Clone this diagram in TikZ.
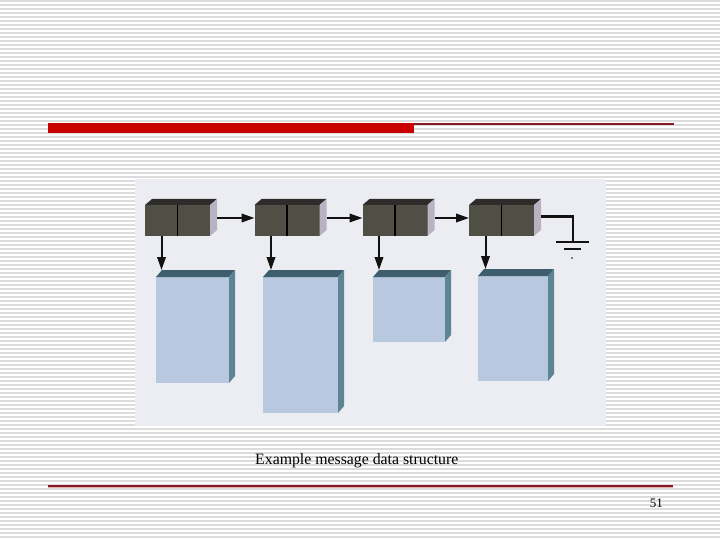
\documentclass[tikz,border=0pt]{standalone}
\usepackage{fontspec}
\setmainfont{Liberation Serif}
\usetikzlibrary{arrows.meta}
\definecolor{stripe}{RGB}{220,220,220}
\definecolor{photobg}{RGB}{236,237,243}
\definecolor{boxfront}{RGB}{80,79,70}
\definecolor{boxtop}{RGB}{46,44,42}
\definecolor{boxside}{RGB}{184,178,194}
\definecolor{blkfront}{RGB}{184,200,222}
\definecolor{blktop}{RGB}{62,94,110}
\definecolor{blkside}{RGB}{92,132,148}
\definecolor{redbar}{RGB}{200,0,0}
\definecolor{maroon}{RGB}{130,25,35}
\definecolor{pinkline}{RGB}{232,175,178}
\definecolor{ink}{RGB}{18,18,18}
\tikzset{
  stripeline/.style={draw=stripe, line width=1.1pt},
  cell/.style={fill=boxfront, minimum width=65pt, minimum height=31pt, inner sep=0pt, outer sep=0pt},
  blk/.style={fill=blkfront, inner sep=0pt, outer sep=0pt},
  arr/.style={draw=ink, line width=2pt, -{Triangle[length=13pt,width=8.5pt]}},
  gnd/.style={draw=ink, line width=2.2pt},
}
\begin{document}
\begin{tikzpicture}[x=1pt,y=-1pt]
\useasboundingbox (0,0) rectangle (720,540);
% striped background
\fill[white] (0,0) rectangle (720,540);
\foreach \k in {0,...,134} {
  \pgfmathsetmacro{\yy}{4*\k+1}
  \draw[stripeline] (0,\yy) -- (720,\yy);
}
% title rule
\fill[redbar] (48,123) rectangle (414,133);
\draw[maroon, line width=1.2pt] (414,124) -- (674,124);
% photo background
\fill[photobg] (135,179) rectangle (606,426);
% linked list cells
\node[cell] (b1) at (177.5,220.5) {};
\node[cell] (b2) at (287,220.5) {};
\node[cell] (b3) at (395,220.5) {};
\node[cell] (b4) at (501.5,220.5) {};
\foreach \n in {1,...,4} {
  \fill[boxtop] (b\n.north west) -- ++(7,-6) -- ([shift={(7,-6)}]b\n.north east) -- (b\n.north east) -- cycle;
  \fill[boxside] (b\n.north east) -- ++(7,-6) -- ([shift={(7,-6)}]b\n.south east) -- (b\n.south east) -- cycle;
  \draw[black, line width=1.8pt] (b\n.north) -- (b\n.south);
}
% data blocks
\node[blk, minimum width=73pt, minimum height=106pt] (m1) at (192.5,330) {};
\node[blk, minimum width=75pt, minimum height=136pt] (m2) at (300.5,345) {};
\node[blk, minimum width=72pt, minimum height=65pt] (m3) at (409,309.5) {};
\node[blk, minimum width=70pt, minimum height=105pt] (m4) at (513,328.5) {};
\foreach \n in {1,...,4} {
  \fill[blktop] (m\n.north west) -- ++(6,-7) -- ([shift={(6,-7)}]m\n.north east) -- (m\n.north east) -- cycle;
  \fill[blkside] (m\n.north east) -- ++(6,-7) -- ([shift={(6,-7)}]m\n.south east) -- (m\n.south east) -- cycle;
  \coordinate (t\n) at ([yshift=7pt]m\n.north);
}
% next pointers
\draw[arr] ([shift={(7,-2.5)}]b1.east) -- ([yshift=2.5pt]b2.west);
\draw[arr] ([shift={(7,-2.5)}]b2.east) -- ([yshift=2.5pt]b3.west);
\draw[arr] ([shift={(7,-2.5)}]b3.east) -- ([yshift=2.5pt]b4.west);
% data pointers
\foreach \n in {1,...,4} {
  \draw[arr] ([xshift=-16pt]b\n.south) -- ([xshift=-16pt]b\n.south |- t\n);
}
% ground (null pointer)
\coordinate (gd) at (573,242);
\draw[gnd] ([shift={(7,-4)}]b4.east) -| (gd);
\draw[gnd] (556,242) -- (589,242);
\draw[gnd] (564,249) -- (581,249);
\fill[ink] (572,258) circle (0.9pt);
% caption
\node[anchor=base west, inner sep=0pt, font=\fontsize{15.8}{18}\selectfont] (cap) at (255,464) {Example message data structure};
% bottom rule
\draw[pinkline, line width=1pt] (48,487.4) -- (673,487.4);
\draw[maroon, line width=1.2pt] (48,486) -- (673,486);
% page number
\node[anchor=base east, inner sep=0pt, font=\fontsize{13}{15}\selectfont] (pg) at (663,507) {51};
\end{tikzpicture}
\end{document}
